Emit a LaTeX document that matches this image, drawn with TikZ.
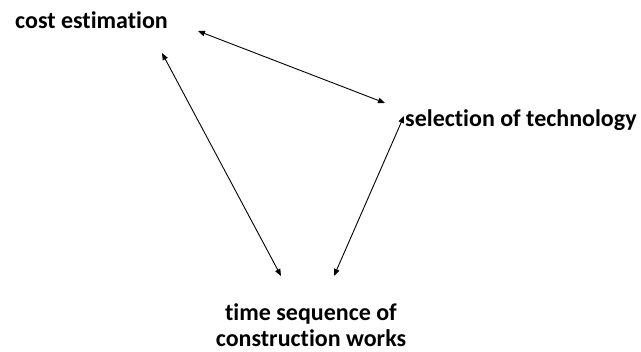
\documentclass[tikz,border=0pt]{standalone}
\usepackage{fontspec}
\setmainfont{Carlito}[Ligatures=NoCommon]
\usetikzlibrary{arrows.meta}
\tikzset{
  lbl/.style={inner sep=0pt, font=\fontsize{24}{26}\selectfont\bfseries},
  link/.style={line width=0.9pt, {Triangle[length=7pt,width=5.5pt]}-{Triangle[length=7pt,width=5.5pt]}}
}
\begin{document}
\begin{tikzpicture}[x=1pt,y=-1pt]
\useasboundingbox (0,0) rectangle (641,352);
\node[lbl, anchor=base west] (cost) at (15,29) {cost estimation};
\node[lbl, anchor=base west] (sel) at (405,127) {selection of technology};
\node[lbl, anchor=base, align=center] (time) at (311,347) {time sequence of\\construction works};
\coordinate (a1) at (198,31);
\coordinate (b1) at (385,103);
\coordinate (a2) at (162,53);
\coordinate (b2) at (281,276);
\coordinate (a3) at (404,116);
\coordinate (b3) at (334,276);
\draw[link] (a1) -- (b1);
\draw[link] (a2) -- (b2);
\draw[link] (a3) -- (b3);
\end{tikzpicture}
\end{document}
